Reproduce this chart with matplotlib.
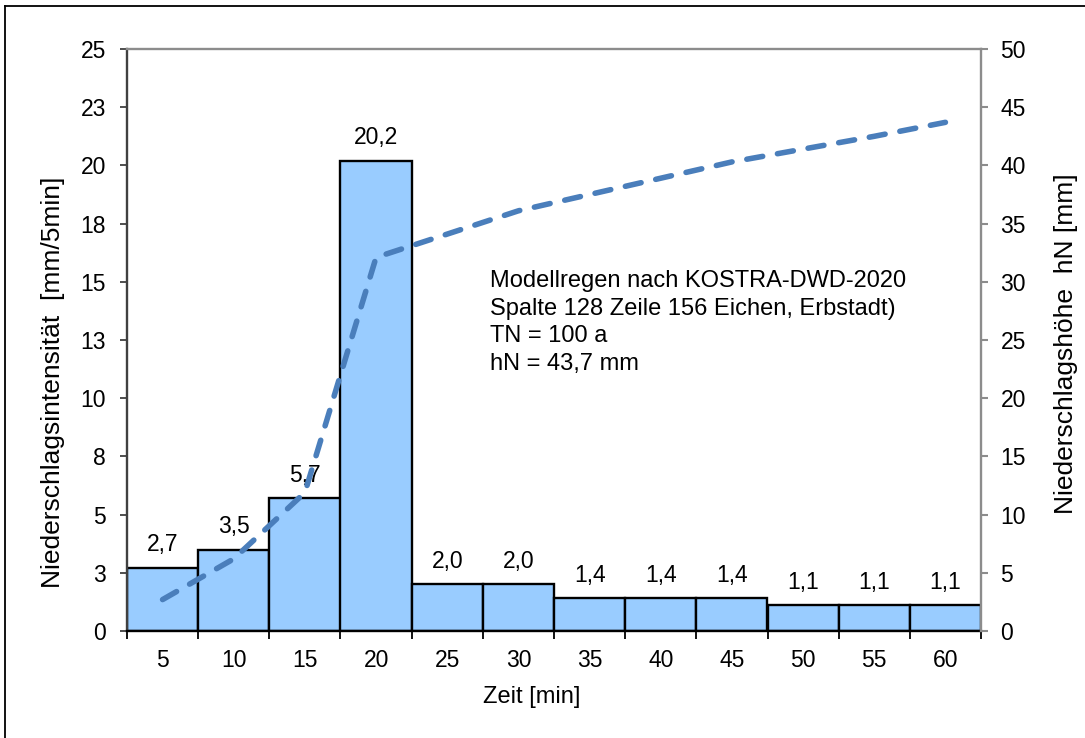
import matplotlib
matplotlib.use("Agg")
import matplotlib.pyplot as plt
from matplotlib.lines import Line2D

plt.rcParams['font.family'] = ['Liberation Sans', 'DejaVu Sans']

# Rainfall model data (5-minute blocks)
zeit = [5, 10, 15, 20, 25, 30, 35, 40, 45, 50, 55, 60]
intensitaet = [2.7, 3.5, 5.7, 20.2, 2.0, 2.0, 1.4, 1.4, 1.4, 1.1, 1.1, 1.1]
summe_hN = [2.7, 6.2, 11.9, 32.1, 34.1, 36.1, 37.5, 38.9, 40.3, 41.4, 42.5, 43.7]
bar_labels = ["2,7", "3,5", "5,7", "20,2", "2,0", "2,0", "1,4", "1,4", "1,4", "1,1", "1,1", "1,1"]

left_ticks = [0, 2.5, 5, 7.5, 10, 12.5, 15, 17.5, 20, 22.5, 25]
left_ticklabels = ["0", "3", "5", "8", "10", "13", "15", "18", "20", "23", "25"]
right_ticks = [0, 5, 10, 15, 20, 25, 30, 35, 40, 45, 50]

info_text = ("Modellregen nach KOSTRA-DWD-2020\n"
             "Spalte 128 Zeile 156 Eichen, Erbstadt)\n"
             "TN = 100 a\n"
             "hN = 43,7 mm")

FS_TICK = 16.5
FS_INFO = 17
FS_LABEL = 19

W, H = 1085, 738
fig = plt.figure(figsize=(W / 100, H / 100), dpi=100)
ax = fig.add_axes([127 / W, 1 - 631 / H, (981 - 127) / W, (631 - 49) / H])

pos = list(range(len(zeit)))
ax.bar(pos, intensitaet, width=1.0, color="#99CCFF", edgecolor="black",
       linewidth=1.7, zorder=2)
for p, v, lab in zip(pos, intensitaet, bar_labels):
    ax.annotate(lab, (p, v), xytext=(0, 12), textcoords="offset points",
                ha="center", va="baseline", fontsize=FS_TICK)

ax.set_xlim(-0.5, len(zeit) - 0.5)
ax.set_ylim(0, 25)
ax.set_yticks(left_ticks)
ax.set_yticklabels(left_ticklabels)
ax.set_xticks(pos)
ax.set_xticklabels([str(z) for z in zeit])
ax.set_xticks([p - 0.5 for p in pos] + [len(zeit) - 0.5], minor=True)
ax.tick_params(axis="x", which="major", length=0, pad=13, labelsize=FS_TICK)
ax.tick_params(axis="x", which="minor", length=6, width=1.3, color="black", direction="out")
ax.tick_params(axis="y", length=5, width=1.3, color="#404040", labelsize=FS_TICK, pad=10)

ax.spines["left"].set_color("#404040")
ax.spines["left"].set_linewidth(1.7)
ax.spines["bottom"].set_color("black")
ax.spines["bottom"].set_linewidth(1.7)
ax.spines["top"].set_color("#8C8C8C")
ax.spines["top"].set_linewidth(1.7)
ax.spines["right"].set_visible(False)

ax2 = ax.twinx()
ax2.plot(pos, summe_hN, color="#4A7EBB", linewidth=4.0, linestyle=(0, (2.9, 2.7)),
         dash_capstyle="round", zorder=5)
ax2.set_ylim(0, 50)
ax2.set_yticks(right_ticks)
ax2.tick_params(axis="y", length=5, width=1.5, color="#8C8C8C", labelsize=FS_TICK, pad=9)
for s in ["left", "top", "bottom"]:
    ax2.spines[s].set_visible(False)
ax2.spines["right"].set_color("#8C8C8C")
ax2.spines["right"].set_linewidth(1.7)

# Axis titles placed in figure pixels
def px(x, y):
    return x / W, 1 - y / H

fig.text(*px(532, 697), "Zeit [min]", fontsize=FS_INFO, ha="center", va="center")
fig.text(*px(53, 382), "Niederschlagsintensität  [mm/5min]", fontsize=FS_LABEL,
         rotation=90, rotation_mode="anchor", ha="center", va="center")
fig.text(*px(1066, 344), "Niederschlagshöhe  hN [mm]", fontsize=FS_LABEL,
         rotation=90, rotation_mode="anchor", ha="center", va="center")

fig.text(*px(490, 270), info_text, fontsize=FS_INFO, ha="left", va="top",
         linespacing=1.33)

# Outer chart frame
fig.add_artist(Line2D([5 / W, 5 / W], [0, 1 - 6 / H], transform=fig.transFigure,
                      color="black", linewidth=1.3))
fig.add_artist(Line2D([5 / W, 1], [1 - 6 / H, 1 - 6 / H], transform=fig.transFigure,
                      color="black", linewidth=1.3))

fig.savefig("out.png", dpi=100)
